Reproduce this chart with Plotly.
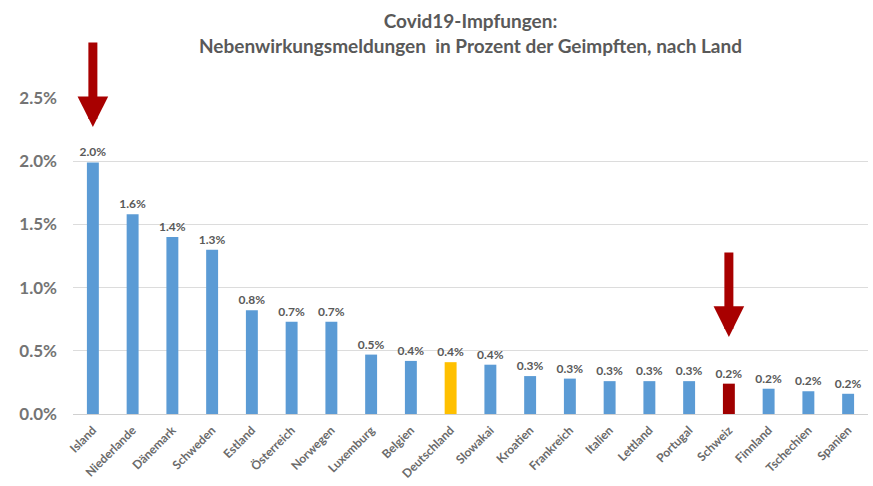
import plotly.graph_objects as go

# Reported side-effect notifications as share of vaccinated people, per country
countries = ["Island", "Niederlande", "Dänemark", "Schweden", "Estland", "Österreich",
             "Norwegen", "Luxemburg", "Belgien", "Deutschland", "Slowakai", "Kroatien",
             "Frankreich", "Italien", "Lettland", "Portugal", "Schweiz", "Finnland",
             "Tschechien", "Spanien"]
percent = [1.99, 1.58, 1.40, 1.30, 0.82, 0.73, 0.73, 0.47, 0.42, 0.41, 0.39, 0.30,
           0.28, 0.26, 0.26, 0.26, 0.24, 0.20, 0.18, 0.16]
y_ticks = [0.0, 0.5, 1.0, 1.5, 2.0, 2.5]

BLUE = "#5B9BD5"
GOLD = "#FFC000"
DARK_RED = "#A00000"
ARROW_RED = "#A80000"
highlight = {"Deutschland": GOLD, "Schweiz": DARK_RED}
colors = [highlight.get(c, BLUE) for c in countries]

fig = go.Figure(go.Bar(
    x=countries,
    y=percent,
    marker=dict(color=colors, line=dict(width=0)),
    texttemplate="%{y:.1f}%",
    textposition="outside",
    constraintext="none",
    cliponaxis=False,
    textfont=dict(family="Lato", size=12, color="#595959", weight="bold"),
))

# Red arrows pointing at Island and Schweiz
for country, tip, length in [("Island", 2.27, 86), ("Schweiz", 0.61, 86)]:
    fig.add_annotation(
        x=country, y=tip, xref="x", yref="y", text="",
        showarrow=True, ax=0, ay=-length, axref="pixel", ayref="pixel",
        arrowhead=2, arrowsize=0.68, arrowwidth=9, arrowcolor=ARROW_RED,
        standoff=0,
    )

fig.update_layout(
    width=873, height=486,
    margin=dict(l=73, r=5, t=98, b=70),
    paper_bgcolor="white",
    plot_bgcolor="white",
    showlegend=False,
    bargap=0.7,
    font=dict(family="Lato", color="#595959"),
    title=dict(
        text="Covid19-Impfungen:<br>Nebenwirkungsmeldungen  in Prozent der Geimpften, nach Land",
        x=0.5, xref="paper", xanchor="center",
        y=1 - 28 / 486, yref="container", yanchor="top",
        font=dict(family="Lato", size=19, color="#595959", weight="bold"),
    ),
    xaxis=dict(
        type="category",
        tickangle=-45,
        tickfont=dict(family="Lato", size=12, color="#6a6a6a", weight="bold"),
        showgrid=False,
        showline=False,
        ticks="",
        ticklabelstandoff=6,
    ),
    yaxis=dict(
        range=[0, 2.5],
        tickvals=y_ticks,
        ticktext=[f"{v:.1f}%" for v in y_ticks],
        tickfont=dict(family="Lato", size=17, color="#747474", weight="bold"),
        gridcolor="#dcdcdc",
        gridwidth=1,
        zeroline=True,
        zerolinecolor="#d0d0d0",
        zerolinewidth=1,
        showline=False,
        ticks="",
        ticklabelstandoff=15,
    ),
)

fig.write_html("out.html")
